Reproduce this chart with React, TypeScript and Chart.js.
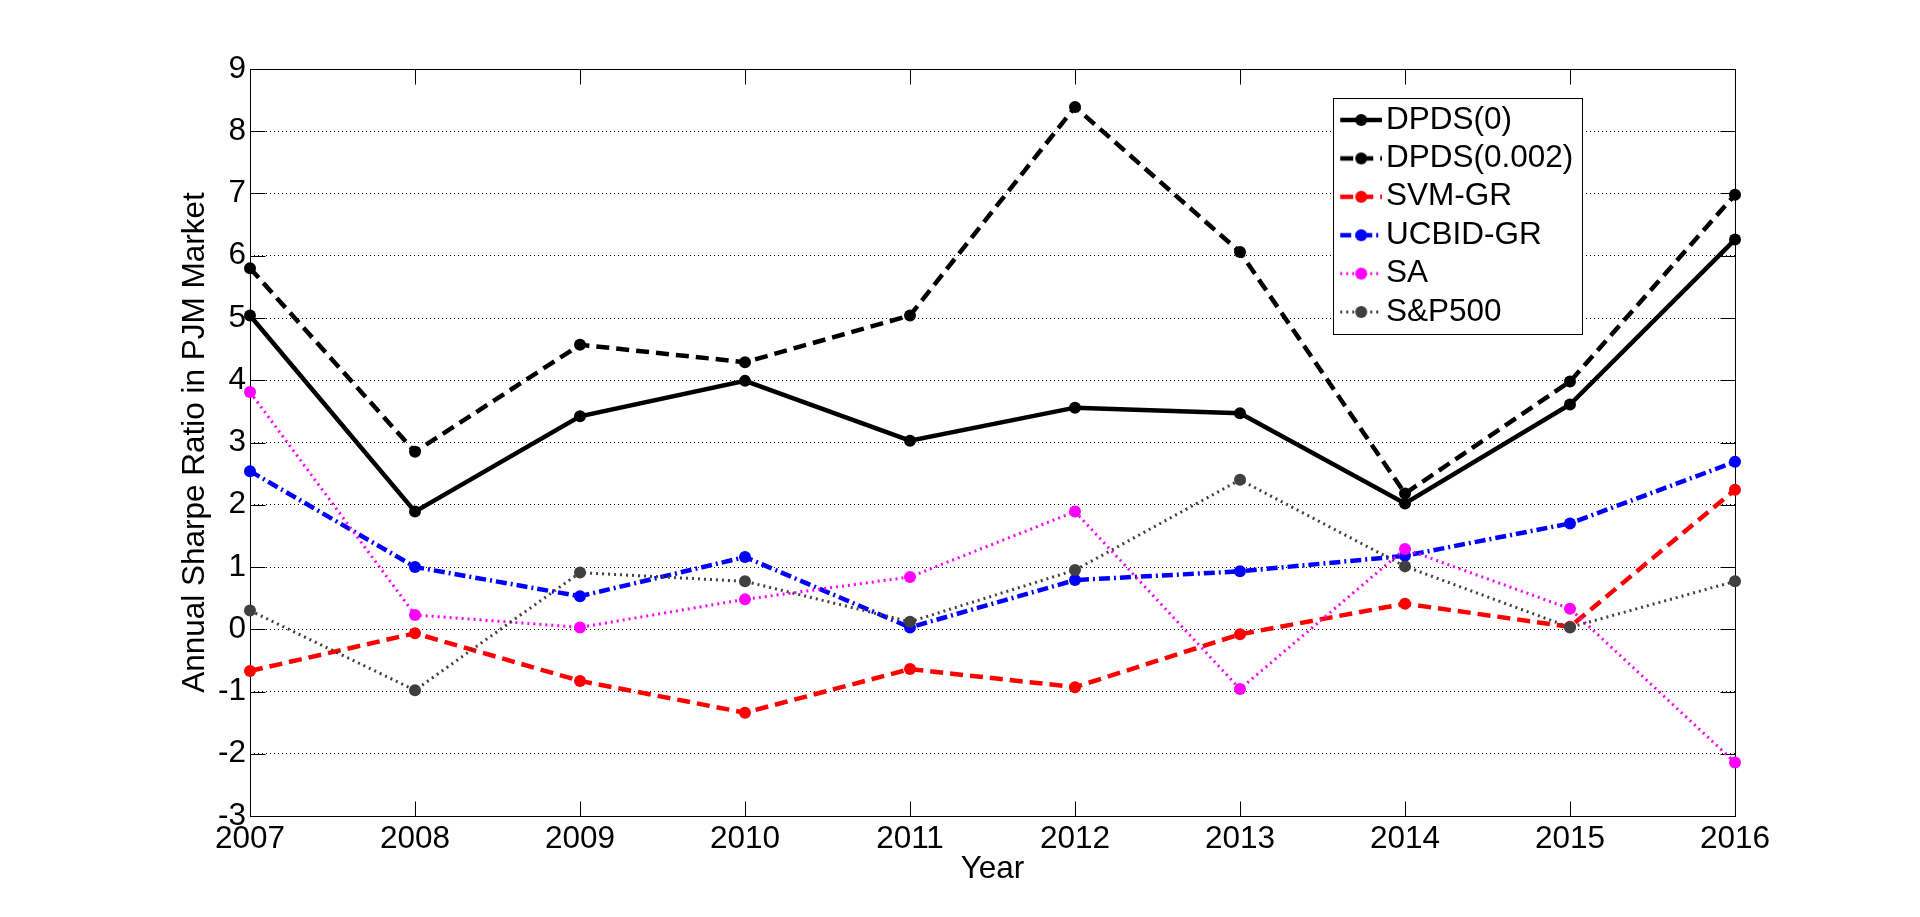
import { useEffect, useRef } from "react"
import { Chart, registerables } from "chart.js"

Chart.register(...registerables)

// data
const years = ["2007", "2008", "2009", "2010", "2011", "2012", "2013", "2014", "2015", "2016"]
const dpds0 = [5.04, 1.89, 3.42, 3.99, 3.03, 3.56, 3.47, 2.02, 3.61, 6.26]
const dpds002 = [5.8, 2.85, 4.57, 4.29, 5.04, 8.39, 6.06, 2.18, 3.98, 6.98]
const svmGr = [-0.67, -0.065, -0.83, -1.34, -0.64, -0.93, -0.08, 0.41, 0.04, 2.24]
const ucbidGr = [2.54, 1.0, 0.53, 1.16, 0.03, 0.79, 0.93, 1.18, 1.7, 2.69]
const sa = [3.81, 0.23, 0.03, 0.48, 0.84, 1.89, -0.96, 1.29, 0.33, -2.14]
const sp500 = [0.3, -0.98, 0.91, 0.77, 0.12, 0.95, 2.4, 1.01, 0.03, 0.77]

const seriesNames = ["DPDS(0)", "DPDS(0.002)", "SVM-GR", "UCBID-GR", "SA", "S&P500"]
const seriesData = [dpds0, dpds002, svmGr, ucbidGr, sa, sp500]

const yMin = -3
const yMax = 9

const FONT_FAMILY = "'Liberation Sans', Arial, Helvetica, sans-serif"
const font = { family: FONT_FAMILY, size: 31.5 }

const styles = [
  { color: "#000000", dash: [] as number[], width: 4.5 },
  { color: "#000000", dash: [13, 7], width: 4.5 },
  { color: "#ff0000", dash: [13, 7], width: 4.5 },
  { color: "#0000ff", dash: [11, 4, 2, 4], width: 4.5 },
  { color: "#ff00ff", dash: [2, 4], width: 3 },
  { color: "#404040", dash: [2, 4], width: 3 },
]

// legend swatch: short line with a marker, like matlab
function makeSample(color: string, dash: number[], width: number) {
  const c = document.createElement("canvas")
  c.width = 54
  c.height = 16
  const g = c.getContext("2d")
  if (!g) return c
  g.strokeStyle = color
  g.lineWidth = width
  g.setLineDash(dash)
  g.beginPath()
  g.moveTo(12, 8)
  g.lineTo(54, 8)
  g.stroke()
  g.setLineDash([])
  g.fillStyle = color
  g.beginPath()
  g.arc(33, 8, 6, 0, Math.PI * 2)
  g.fill()
  return c
}

const boxPlugin = {
  id: "matlabBox",
  afterLayout(chart: any) {
    const lg = chart.legend
    if (!lg) return
    const w = lg.width
    const h = lg.height
    lg.left = 1333.35
    lg.top = 97.35
    lg.right = lg.left + w + 20
    lg.bottom = lg.top + h
  },
  beforeDatasetsDraw(chart: any) {
    const { ctx, chartArea: a, scales } = chart
    const L = Math.round(a.left) + 0.5
    const R = Math.round(a.right) + 0.5
    const T = Math.round(a.top) + 0.5
    const B = Math.round(a.bottom) + 0.5
    ctx.save()
    ctx.strokeStyle = "#000"
    ctx.lineWidth = 1
    ctx.setLineDash([])
    ctx.strokeRect(L, T, R - L, B - T)
    ctx.beginPath()
    years.forEach((_, i) => {
      const x = Math.round(scales.x.getPixelForValue(i)) + 0.5
      ctx.moveTo(x, B)
      ctx.lineTo(x, B - 15)
      ctx.moveTo(x, T)
      ctx.lineTo(x, T + 15)
    })
    scales.y.ticks.forEach((t: any) => {
      const y = Math.round(scales.y.getPixelForValue(t.value)) + 0.5
      ctx.moveTo(L, y)
      ctx.lineTo(L + 15, y)
      ctx.moveTo(R, y)
      ctx.lineTo(R - 15, y)
    })
    ctx.stroke()
    ctx.restore()
  },
  afterDatasetsDraw(chart: any) {
    const { ctx } = chart
    ctx.save()
    ctx.fillStyle = "#fff"
    ctx.fillRect(1333.5, 98.5, 249, 236)
    ctx.strokeStyle = "#000"
    ctx.lineWidth = 1
    ctx.setLineDash([])
    ctx.strokeRect(1333.5, 98.5, 249, 236)
    ctx.restore()
    // draw legend again above the white frame
    if (chart.legend) chart.legend.draw(chart.chartArea)
  },
}

export default function App() {
  const chartRef = useRef<HTMLCanvasElement>(null)
  const chartInstance = useRef<Chart | null>(null)

  useEffect(() => {
    if (!chartRef.current) return
    if (chartInstance.current) chartInstance.current.destroy()
    const ctx = chartRef.current.getContext("2d")
    if (!ctx) return

    const samples = styles.map((s) => makeSample(s.color, s.dash, s.width))

    chartInstance.current = new Chart(ctx, {
      type: "line",
      data: {
        labels: years,
        datasets: seriesNames.map((name, i) => ({
          label: name,
          data: seriesData[i],
          borderColor: styles[i].color,
          backgroundColor: styles[i].color,
          borderWidth: styles[i].width,
          borderDash: styles[i].dash,
          pointRadius: 6,
          pointBorderWidth: 0,
          pointBackgroundColor: styles[i].color,
          pointHoverRadius: 6,
          tension: 0,
          fill: false,
          clip: false as any,
          order: -i,
        })),
      },
      options: {
        responsive: false,
        animation: false,
        events: [],
        layout: { padding: { left: 0, right: 185, top: 69, bottom: 0 } },
        plugins: {
          tooltip: { enabled: false },
          legend: {
            position: "chartArea",
            align: "start",
            labels: {
              usePointStyle: true,
              pointStyleWidth: 30,
              padding: 6.9,
              font: font,
              color: "#000",
              generateLabels: () =>
                seriesNames.map((name, i) => ({
                  text: name,
                  pointStyle: samples[i],
                  fillStyle: styles[i].color,
                  strokeStyle: styles[i].color,
                  lineWidth: 0,
                  hidden: false,
                  datasetIndex: i,
                  fontColor: "#000",
                })),
            },
          },
        },
        scales: {
          x: {
            type: "category",
            offset: false,
            grid: { display: false, drawTicks: false },
            border: { display: false },
            ticks: { padding: 4, color: "#000", font: font, maxRotation: 0, autoSkip: false },
            title: {
              display: true,
              text: "Year",
              color: "#000",
              font: font,
              padding: { top: 0, bottom: 28.6 },
            },
            afterFit: (s: any) => {
              s.height = 101
            },
          },
          y: {
            min: yMin,
            max: yMax,
            ticks: { stepSize: 1, padding: 4, color: "#000", font: font, autoSkip: false },
            grid: { color: "#000", lineWidth: 1, drawTicks: false },
            border: { display: false, dash: [1, 3] },
            title: {
              display: true,
              text: "Annual Sharpe Ratio in PJM Market",
              color: "#000",
              font: font,
              padding: { top: 176.4, bottom: 0 },
            },
            afterFit: (s: any) => {
              s.width = 250
            },
          },
        },
      } as any,
      plugins: [boxPlugin],
    })

    return () => {
      if (chartInstance.current) {
        chartInstance.current.destroy()
        chartInstance.current = null
      }
    }
  }, [])

  return (
    <div style={{ position: "absolute", left: 0, top: 0, width: 1920, height: 917, background: "#fff" }}>
      <canvas ref={chartRef} width={1920} height={917} style={{ width: 1920, height: 917, display: "block" }}></canvas>
    </div>
  )
}
